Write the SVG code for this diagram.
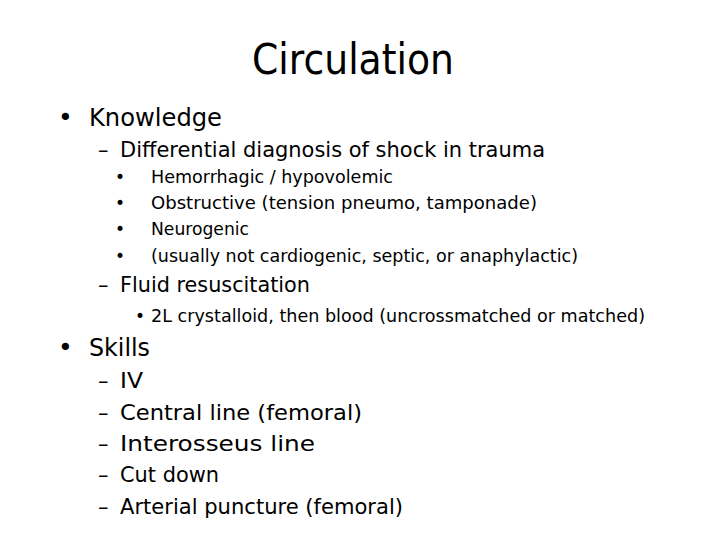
<svg xmlns="http://www.w3.org/2000/svg" width="720" height="540" viewBox="0 0 720 540">
<style>
text{font-family:"DejaVu Sans","Liberation Sans",sans-serif;fill:#000}
.l1{font-size:25px}.l2{font-size:21px}.l3{font-size:17px}
</style>
<rect width="720" height="540" fill="#fff"/>
<text x="353" y="74" font-size="42" text-anchor="middle" textLength="202" lengthAdjust="spacingAndGlyphs">Circulation</text>
<g id="knowledge">
<text class="l1" x="58" y="126">•</text>
<text class="l1" x="89" y="126" textLength="133" lengthAdjust="spacingAndGlyphs">Knowledge</text>
<text class="l2" x="98" y="157">–</text>
<text class="l2" x="120" y="157" textLength="425" lengthAdjust="spacingAndGlyphs">Differential diagnosis of shock in trauma</text>
<text class="l3" x="115" y="183">•</text>
<text class="l3" x="151" y="183" textLength="242" lengthAdjust="spacingAndGlyphs">Hemorrhagic / hypovolemic</text>
<text class="l3" x="115" y="209">•</text>
<text class="l3" x="151" y="209" textLength="386" lengthAdjust="spacingAndGlyphs">Obstructive (tension pneumo, tamponade)</text>
<text class="l3" x="115" y="235">•</text>
<text class="l3" x="151" y="235" textLength="98" lengthAdjust="spacingAndGlyphs">Neurogenic</text>
<text class="l3" x="115" y="262">•</text>
<text class="l3" x="151" y="262" textLength="427" lengthAdjust="spacingAndGlyphs">(usually not cardiogenic, septic, or anaphylactic)</text>
<text class="l2" x="98" y="292">–</text>
<text class="l2" x="120" y="292" textLength="190" lengthAdjust="spacingAndGlyphs">Fluid resuscitation</text>
<text class="l3" x="135" y="322">•</text>
<text class="l3" x="151" y="322" textLength="494" lengthAdjust="spacingAndGlyphs">2L crystalloid, then blood (uncrossmatched or matched)</text>
</g>
<g id="skills">
<text class="l1" x="58" y="356">•</text>
<text class="l1" x="89" y="356" textLength="61" lengthAdjust="spacingAndGlyphs">Skills</text>
<text class="l2" x="98" y="388">–</text>
<text class="l2" x="120" y="388" textLength="23" lengthAdjust="spacingAndGlyphs">IV</text>
<text class="l2" x="98" y="420">–</text>
<text class="l2" x="120" y="420" textLength="242" lengthAdjust="spacingAndGlyphs">Central line (femoral)</text>
<text class="l2" x="98" y="451">–</text>
<text class="l2" x="120" y="451" textLength="195" lengthAdjust="spacingAndGlyphs">Interosseus line</text>
<text class="l2" x="98" y="482">–</text>
<text class="l2" x="120" y="482" textLength="99" lengthAdjust="spacingAndGlyphs">Cut down</text>
<text class="l2" x="98" y="514">–</text>
<text class="l2" x="120" y="514" textLength="283" lengthAdjust="spacingAndGlyphs">Arterial puncture (femoral)</text>
</g>
</svg>
